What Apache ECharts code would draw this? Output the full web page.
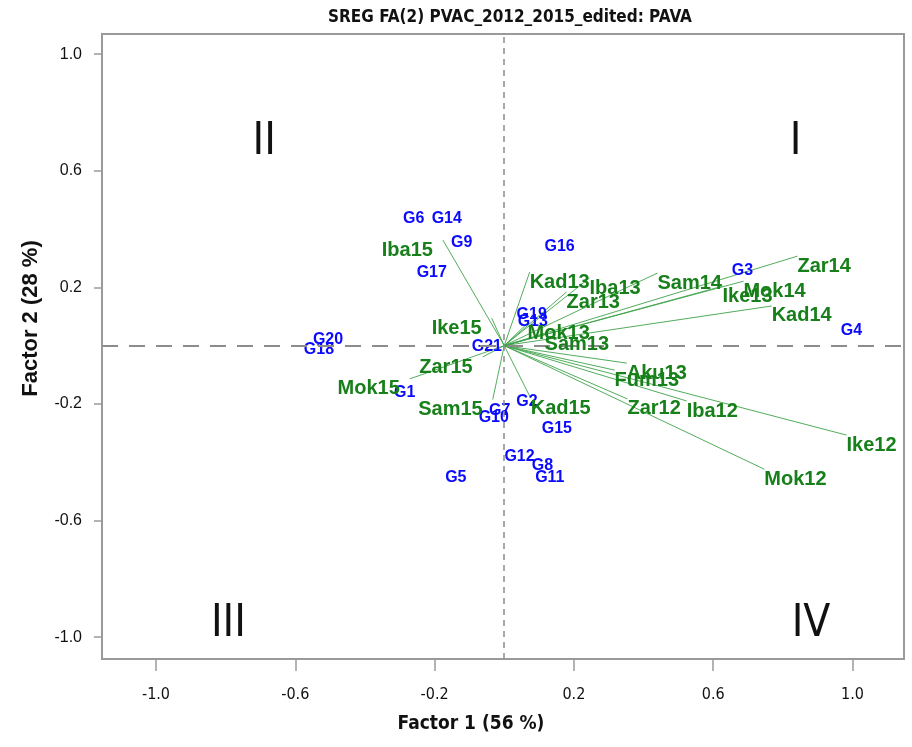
<!DOCTYPE html>
<html>
<head>
<meta charset="utf-8">
<script src="https://cdn.jsdelivr.net/npm/echarts@6/dist/echarts.min.js"></script>
<style>
  html, body { margin: 0; padding: 0; background: #ffffff; }
  #chart { width: 912px; height: 747px; }
</style>
</head>
<body>
<div id="chart"></div>
<script>
// Genotype scores (blue labels)
const genotypes = ['G1','G2','G3','G4','G5','G6','G7','G8','G9','G10','G11','G12','G13','G14','G15','G16','G17','G18','G19','G20','G21'];
const genoF1 = [-0.286, 0.065, 0.684, 0.997, -0.139, -0.260, -0.013, 0.110, -0.122, -0.030, 0.131, 0.044, 0.082, -0.165, 0.151, 0.159, -0.208, -0.532, 0.079, -0.506, -0.050];
const genoF2 = [-0.160, -0.191, 0.259, 0.053, -0.454, 0.437, -0.222, -0.413, 0.355, -0.247, -0.454, -0.381, 0.084, 0.437, -0.283, 0.341, 0.252, -0.012, 0.108, 0.019, -0.005];

// Environment loadings (green vectors)
const environments = ['Zar14','Mok14','Ike13','Sam14','Kad14','Iba13','Kad13','Zar13','Mok13','Sam13','Aku13','Fum13','Zar12','Iba12','Ike12','Mok12','Kad15','Iba15','Ike15','Zar15','Mok15','Sam15'];
const envF1 = [0.842, 0.687, 0.627, 0.440, 0.768, 0.245, 0.073, 0.179, 0.067, 0.116, 0.352, 0.317, 0.354, 0.524, 0.983, 0.747, 0.076, -0.176, -0.036, -0.062, -0.271, -0.033];
const envF2 = [0.307, 0.221, 0.204, 0.249, 0.136, 0.232, 0.252, 0.184, 0.077, 0.039, -0.060, -0.084, -0.183, -0.190, -0.307, -0.424, -0.180, 0.362, 0.094, -0.039, -0.114, -0.185];

// Quadrant numerals
const quadrantNames = ['I', 'II', 'III', 'IV'];
const quadrantF1 = [0.837, -0.689, -0.792, 0.881];
const quadrantF2 = [0.695, 0.695, -0.958, -0.958];

// Axis ticks
const tickValues = [-1.0, -0.6, -0.2, 0.2, 0.6, 1.0];

const GREEN = '#17801a';
const BLUE = '#0a0aff';
const AXIS_GRAY = '#9a9a9a';
const FONT = '"Liberation Sans", Arial, sans-serif';
const NARROW = '"Liberation Sans Narrow", "DejaVu Sans Condensed", "Liberation Sans", sans-serif';

const chart = echarts.init(document.getElementById('chart'), null, { renderer: 'canvas' });

const vectorData = environments.map((n, i) => ({ coords: [[0, 0], [envF1[i], envF2[i]]] }));

const envLabelData = environments.map((n, i) => {
  const right = envF1[i] >= 0;
  return {
    name: n,
    value: [envF1[i], envF2[i]],
    label: {
      position: right ? [0, 0] : [-10, 0],
      align: right ? 'left' : 'right',
      verticalAlign: 'top'
    }
  };
});

const genoData = genotypes.map((n, i) => ({ name: n, value: [genoF1[i], genoF2[i]] }));
const quadData = quadrantNames.map((n, i) => ({ name: n, value: [quadrantF1[i], quadrantF2[i]] }));

const option = {
  animation: false,
  backgroundColor: '#ffffff',
  title: {
    text: 'SREG FA(2) PVAC_2012_2015_edited: PAVA',
    left: 505,
    top: 4,
    textAlign: 'center',
    textStyle: { fontFamily: NARROW, fontWeight: 'bold', fontSize: 17, color: '#111' }
  },
  grid: {
    left: 102, right: 8, top: 34, bottom: 88,
    show: true, borderColor: AXIS_GRAY, borderWidth: 2, backgroundColor: '#ffffff'
  },
  xAxis: {
    type: 'value',
    min: -1.155, max: 1.148,
    name: 'Factor 1 (56 %)',
    nameLocation: 'middle',
    nameGap: 56,
    nameTextStyle: { fontFamily: NARROW, fontWeight: 'bold', fontSize: 19, color: '#111', padding: [0, 64, 0, 0] },
    axisLine: { show: false, onZero: false },
    splitLine: { show: false },
    axisTick: { show: true, customValues: tickValues, length: 12, lineStyle: { color: AXIS_GRAY, width: 1.5 } },
    axisLabel: {
      customValues: tickValues, margin: 28,
      formatter: v => v.toFixed(1),
      fontFamily: NARROW, fontSize: 16, color: '#111'
    }
  },
  yAxis: {
    type: 'value',
    min: -1.075, max: 1.069,
    name: 'Factor 2 (28 %)',
    nameLocation: 'middle',
    nameGap: 60,
    nameTextStyle: { fontFamily: FONT, fontWeight: 'bold', fontSize: 22, color: '#111', padding: [0, 0, 0, 56] },
    axisLine: { show: false, onZero: false },
    splitLine: { show: false },
    axisTick: { show: true, customValues: tickValues, length: 8, lineStyle: { color: AXIS_GRAY, width: 1.5 } },
    axisLabel: {
      customValues: tickValues, margin: 20,
      formatter: v => v.toFixed(1),
      fontFamily: FONT, fontSize: 16, color: '#111'
    }
  },
  series: [
    {
      // reference lines through the origin
      type: 'line',
      data: [],
      silent: true,
      markLine: {
        symbol: 'none',
        silent: true,
        label: { show: false },
        data: [
          { yAxis: 0, lineStyle: { type: [16, 11], color: '#8c8c8c', width: 2 } },
          { xAxis: 0, lineStyle: { type: [6, 5], color: '#8c8c8c', width: 1.5 } }
        ]
      }
    },
    {
      type: 'lines',
      coordinateSystem: 'cartesian2d',
      polyline: false,
      silent: true,
      lineStyle: { color: '#3fa34a', width: 1, opacity: 0.9 },
      data: vectorData,
      z: 3
    },
    {
      type: 'scatter',
      symbolSize: 0,
      silent: true,
      itemStyle: { opacity: 1 },
      data: genoData,
      label: {
        show: true,
        position: 'inside',
        formatter: p => p.name,
        opacity: 1,
        fontFamily: FONT, fontWeight: 'bold', fontSize: 16, color: BLUE
      },
      z: 4
    },
    {
      type: 'scatter',
      symbolSize: 0,
      silent: true,
      itemStyle: { opacity: 1 },
      data: envLabelData,
      label: {
        show: true,
        formatter: p => p.name,
        opacity: 1,
        fontFamily: FONT, fontWeight: 'bold', fontSize: 20, lineHeight: 20, color: GREEN
      },
      z: 5
    },
    {
      type: 'scatter',
      symbolSize: 0,
      silent: true,
      itemStyle: { opacity: 1 },
      data: quadData,
      label: {
        show: true,
        position: 'inside',
        formatter: p => p.name,
        opacity: 1,
        fontFamily: NARROW, fontSize: 44, color: '#111'
      },
      z: 4
    }
  ]
};

chart.setOption(option);
</script>
</body>
</html>
